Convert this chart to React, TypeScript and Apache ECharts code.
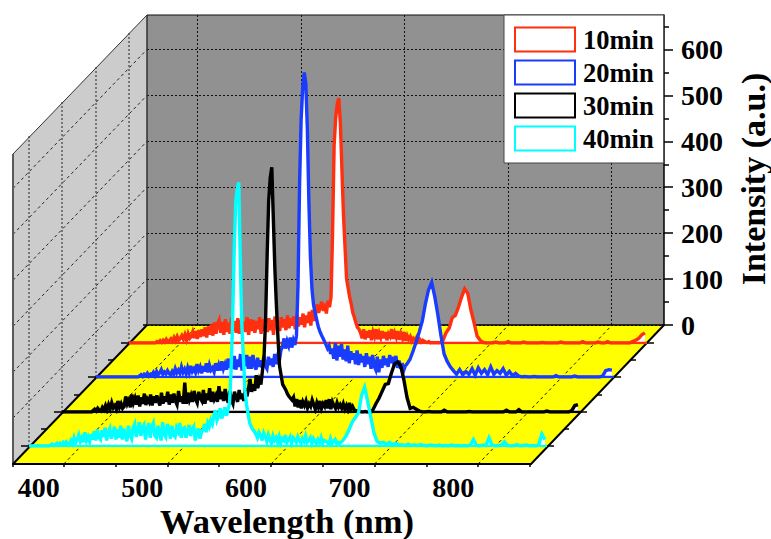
import React, { useEffect, useRef } from "react";
import * as echarts from "echarts";

// --- chart data -----------------------------------------------------------
const seriesNames = ["10min", "20min", "30min", "40min"];
const seriesColors = ["#ff3010", "#1a3cff", "#000000", "#00ffff"];
const yMajorTicks = [0, 100, 200, 300, 400, 500, 600];
const yMinorTicks = [50, 150, 250, 350, 450, 550, 650];
const xMajorTicks = [400, 500, 600, 700, 800];
const xAllTicks = [351, 400, 450, 500, 550, 600, 650, 700, 750, 800, 850];

// Sampling: every 1.5 nm from 351 to 651 nm (201 samples), then every 3 nm to 849 nm (66 samples)
const wavelengths: number[] = [];
for (let k = 0; k <= 200; k++) wavelengths.push(351 + 1.5 * k);
for (let j = 1; j <= 66; j++) wavelengths.push(651 + 3 * j);

const red10 = [
  0, 0, 0, 0, 0, 0, 0, 0, 0, 0, 0, 0, 0, 0, 0, 0, 0, 0, 3, 1,
  5, 1, 6, 2, 8, 3, 5, 9, 4, 12, 5, 14, 6, 10, 16, 8, 18, 7, 20, 10,
  14, 24, 11, 26, 9, 28, 13, 30, 15, 34, 12, 36, 18, 40, 16, 45, 20, 42, 50, 22,
  46, 18, 52, 24, 44, 20, 55, 26, 48, 22, 54, 20, 50, 28, 46, 24, 56, 18, 52, 26,
  50, 22, 48, 30, 56, 20, 52, 26, 46, 24, 54, 28, 50, 18, 58, 30, 48, 26, 56, 34,
  52, 28, 60, 32, 54, 38, 58, 30, 62, 36, 56, 40, 64, 34, 60, 44, 68, 38, 72, 48,
  62, 84, 66, 78, 90, 70, 86, 64, 92, 78, 100, 240, 430, 490, 520, 533, 480, 380, 280, 210,
  140, 120, 100, 85, 66, 56, 44, 34, 30, 22, 10, 30, 8, 26, 12, 28, 6, 24, 14, 30,
  8, 22, 12, 26, 10, 24, 6, 20, 14, 30, 9, 22, 12, 26, 7, 20, 10, 24, 5, 16,
  8, 14, 4, 10, 6, 12, 3, 8, 2, 6, 4, 2, 1, 3, 0, 1, 0, 1, 0, 1,
  0,
  5, 22, 32, 55, 60, 78, 100, 118, 108,
  72, 45, 15, 6, 1, 0, 0, 0, 2, 0,
  0, 0, 3, 0, 0, 0, 0, 2, 0, 0,
  0, 0, 0, 1, 0, 0, 0, 0, 0, 2,
  0, 0, 0, 0, 0, 0, 3, 0, 0, 0,
  0, 2, 0, 0, 3, 0, 0, 0, 0, 0,
  0, 0, 3, 6, 10, 18, 22,
];
const blue20 = [
  0, 0, 0, 0, 0, 0, 0, 0, 0, 0, 0, 0, 0, 0, 0, 0, 0, 0, 0, 0,
  0, 0, 0, 0, 0, 0, 0, 0, 2, 5, 1, 6, 3, 8, 2, 6, 4, 10, 3, 12,
  5, 9, 16, 6, 11, 7, 14, 8, 5, 12, 6, 18, 9, 15, 8, 22, 10, 17, 7, 20,
  9, 24, 12, 18, 10, 28, 14, 22, 8, 24, 12, 30, 10, 26, 15, 20, 11, 30, 14, 26,
  14, 34, 18, 28, 16, 40, 20, 32, 18, 46, 16, 38, 22, 50, 14, 36, 24, 48, 18, 44,
  18, 48, 26, 16, 42, 22, 36, 20, 46, 24, 18, 44, 26, 40, 22, 50, 28, 46, 36, 58,
  66, 84, 62, 78, 68, 86, 64, 80, 70, 90, 200, 420, 560, 630, 663, 640, 540, 380, 260, 190,
  157, 140, 125, 110, 100, 92, 85, 78, 70, 62, 68, 50, 62, 40, 74, 36, 68, 44, 72, 38,
  60, 34, 68, 30, 56, 38, 52, 28, 58, 26, 50, 32, 46, 22, 52, 28, 44, 18, 48, 24,
  16, 44, 10, 38, 20, 46, 26, 40, 22, 48, 30, 44, 24, 46, 20, 36, 18, 30, 14, 24,
  28,
  38, 56, 76, 98, 122, 160, 190, 206, 175,
  135, 90, 50, 34, 22, 14, 6, 16, 5, 12,
  6, 18, 4, 20, 8, 16, 5, 22, 6, 14,
  8, 18, 4, 12, 3, 8, 2, 0, 1, 0,
  0, 1, 0, 0, 0, 0, 0, 0, 3, 0,
  0, 0, 0, 0, 2, 0, 0, 0, 0, 0,
  0, 0, 0, 2, 14, 16, 15,
];
const black30 = [
  0, 0, 0, 0, 0, 0, 0, 0, 0, 0, 0, 0, 0, 0, 0, 0, 0, 0, 0, 0,
  3, 6, 2, 8, 4, 2, 10, 5, 14, 4, 16, 7, 20, 9, 14, 6, 24, 10, 18, 8,
  12, 34, 18, 26, 10, 38, 20, 30, 16, 36, 12, 32, 18, 40, 15, 28, 22, 38, 14, 34,
  20, 36, 24, 14, 42, 18, 34, 22, 44, 16, 38, 20, 40, 24, 16, 46, 22, 34, 18, 64,
  18, 42, 26, 36, 22, 46, 28, 20, 44, 30, 24, 48, 18, 40, 26, 52, 22, 44, 28, 36,
  22, 56, 28, 44, 24, 50, 30, 20, 46, 26, 18, 44, 32, 22, 48, 28, 40, 24, 52, 34,
  50, 72, 44, 60, 46, 80, 52, 70, 60, 90, 120, 200, 340, 460, 510, 533, 420, 310, 230, 160,
  100, 80, 60, 54, 48, 40, 34, 30, 26, 32, 12, 28, 10, 26, 8, 22, 14, 24, 9, 18,
  12, 26, 16, 6, 20, 10, 24, 8, 18, 12, 26, 8, 28, 6, 22, 14, 8, 20, 10, 16,
  8, 18, 6, 14, 4, 20, 6, 12, 5, 3, 2, 0, 1, 0, 0, 1, 0, 0, 1, 0,
  4,
  18, 30, 45, 60, 62, 85, 105, 109, 100,
  70, 32, 8, 10, 6, 2, 0, 0, 1, 0,
  0, 0, 0, 4, 0, 0, 0, 0, 0, 0,
  0, 1, 0, 0, 0, 0, 0, 0, 0, 0,
  0, 0, 0, 4, 0, 0, 0, 5, 0, 0,
  0, 0, 0, 0, 0, 0, 2, 0, 0, 0,
  0, 0, 0, 0, 3, 14, 16,
];
const cyan40 = [
  0, 0, 0, 0, 0, 0, 0, 0, 0, 0, 0, 0, 0, 0, 2, 4, 1, 3, 6, 2,
  6, 3, 8, 4, 9, 5, 3, 12, 5, 18, 7, 14, 24, 10, 18, 8, 30, 12, 20, 10,
  26, 14, 32, 12, 36, 18, 14, 34, 20, 40, 12, 30, 38, 16, 28, 42, 14, 36, 18, 44,
  14, 38, 22, 10, 44, 24, 16, 40, 48, 20, 34, 52, 22, 40, 46, 14, 36, 50, 18, 42,
  50, 22, 18, 44, 30, 12, 52, 26, 20, 48, 36, 16, 44, 24, 20, 40, 32, 50, 18, 38,
  40, 18, 30, 46, 22, 36, 42, 12, 28, 38, 16, 30, 36, 48, 30, 50, 42, 56, 48, 66,
  78, 56, 64, 82, 60, 70, 84, 66, 78, 92, 160, 270, 420, 530, 560, 574, 400, 260, 190, 120,
  90, 70, 50, 42, 36, 32, 26, 18, 30, 24, 12, 28, 20, 10, 24, 14, 6, 22, 12, 18,
  8, 20, 6, 16, 12, 24, 8, 14, 20, 6, 18, 14, 8, 20, 12, 6, 16, 10, 22, 8,
  12, 18, 6, 16, 10, 5, 14, 8, 18, 6, 12, 10, 8, 4, 16, 6, 10, 14, 5, 8,
  6,
  12, 22, 36, 52, 62, 72, 110, 128, 96,
  62, 28, 10, 6, 8, 4, 8, 3, 6, 2,
  3, 1, 4, 1, 2, 1, 3, 1, 0, 2,
  1, 0, 2, 0, 1, 0, 2, 0, 1, 0,
  1, 0, 2, 14, 1, 0, 2, 1, 18, 2,
  0, 1, 2, 9, 1, 0, 1, 3, 0, 1,
  2, 0, 1, 0, 2, 26, 14,
];
const intensities = [red10, blue20, black30, cyan40];

// --- frame geometry -------------------------------------------------------
const FONT = "Liberation Serif";
const X_MIN = 351;
const X_MAX = 851;
const Y_MAX = 675;
const PLOT_W = 518;
const PLOT_H = 310;
const BACK = { x: 147, y: 325 };
const FRONT = { x: 13, y: 464 };
const seriesLeft = [129, 96, 62, 29];
const seriesBase = [343, 377, 412, 446];
const depthMajor = [
  { x: 129, y: 343 },
  { x: 96, y: 377 },
  { x: 62, y: 412 },
  { x: 29, y: 446 },
];
const depthMinor = [
  { x: 113, y: 360 },
  { x: 79, y: 395 },
  { x: 46, y: 429 },
];

function buildOption() {
  const pxX = (v: number) => ((v - X_MIN) / (X_MAX - X_MIN)) * PLOT_W;
  const pxY = (v: number) => (v / Y_MAX) * PLOT_H;
  const g: any[] = [];
  const line = (x1: number, y1: number, x2: number, y2: number, stroke: string, lineWidth: number, dash?: number[], z = -1) =>
    g.push({
      type: "line",
      z,
      silent: true,
      shape: { x1, y1, x2, y2 },
      style: { stroke, lineWidth, lineDash: dash, fill: null },
    });

  g.push({
    type: "polygon",
    z: -5,
    silent: true,
    shape: { points: [[FRONT.x, FRONT.y - PLOT_H], [BACK.x, BACK.y - PLOT_H], [BACK.x, BACK.y], [FRONT.x, FRONT.y]] },
    style: { fill: "#cccccc" },
  });
  g.push({
    type: "polygon",
    z: -5,
    silent: true,
    shape: { points: [[BACK.x, BACK.y], [BACK.x + PLOT_W - 1, BACK.y], [FRONT.x + PLOT_W, FRONT.y], [FRONT.x, FRONT.y]] },
    style: { fill: "#ffff00" },
  });
  yMajorTicks.slice(1).forEach((v) =>
    line(FRONT.x, FRONT.y - pxY(v), BACK.x, BACK.y - pxY(v), "#222", 1, [3, 3])
  );
  depthMajor.forEach((p) => {
    line(p.x, p.y - PLOT_H, p.x, p.y, "#222", 1, [2, 2]);
  });
  xMajorTicks.forEach((v) =>
    line(FRONT.x + pxX(v), FRONT.y, BACK.x + pxX(v), BACK.y, "#111", 1, [3, 3])
  );
  line(FRONT.x, FRONT.y - PLOT_H, FRONT.x, FRONT.y, "#5a5a5a", 2);
  line(FRONT.x, FRONT.y - PLOT_H, BACK.x, BACK.y - PLOT_H, "#333", 1);
  line(BACK.x, BACK.y - PLOT_H, BACK.x, BACK.y, "#333", 1.5, undefined, 1);
  line(BACK.x, BACK.y - PLOT_H, BACK.x + PLOT_W - 1, BACK.y - PLOT_H, "#111", 1, undefined, 1);
  line(FRONT.x, FRONT.y, BACK.x, BACK.y, "#000", 2, undefined, 1);
  line(FRONT.x + PLOT_W, FRONT.y, BACK.x + PLOT_W - 1, BACK.y, "#000", 2, undefined, 1);
  depthMajor.forEach((p) => {
    line(p.x - 8, p.y, p.x, p.y, "#000", 1.5, undefined, 1);
    line(p.x + PLOT_W, p.y, p.x + PLOT_W + 7, p.y, "#000", 1.5, undefined, 1);
  });
  depthMinor.forEach((p) => {
    line(p.x - 5, p.y, p.x, p.y, "#000", 1.5, undefined, 1);
    line(p.x + PLOT_W, p.y, p.x + PLOT_W + 5, p.y, "#000", 1.5, undefined, 1);
  });
  line(BACK.x - 4, BACK.y, BACK.x, BACK.y, "#000", 1.5, undefined, 1);
  g.push({
    type: "text",
    x: 287,
    y: 521,
    style: {
      text: "Wavelength (nm)",
      font: `bold 34.5px "${FONT}"`,
      fill: "#000",
      textAlign: "center",
      textVerticalAlign: "middle",
    },
  });
  g.push({
    type: "text",
    x: 753,
    y: 179,
    rotation: Math.PI / 2,
    style: {
      text: "Intensity (a.u.)",
      font: `bold 34px "${FONT}"`,
      fill: "#000",
      textAlign: "center",
      textVerticalAlign: "middle",
    },
  });

  const bounds = { outerBoundsMode: "none" };
  const grids: any[] = [
    {
      ...bounds,
      left: BACK.x,
      top: BACK.y - PLOT_H,
      width: PLOT_W - 1,
      height: PLOT_H,
      show: true,
      backgroundColor: "#919191",
      borderWidth: 0,
    },
    { ...bounds, left: FRONT.x, top: FRONT.y - PLOT_H, width: PLOT_W, height: PLOT_H },
    { ...bounds, left: FRONT.x - 25, top: FRONT.y - PLOT_H, width: PLOT_W, height: PLOT_H },
    ...seriesLeft.map((left, i) => ({
      ...bounds,
      left,
      top: seriesBase[i] - PLOT_H,
      width: PLOT_W,
      height: PLOT_H,
    })),
  ];

  const hiddenX = (gridIndex: number) => ({
    type: "value",
    gridIndex,
    min: X_MIN,
    max: X_MAX,
    show: false,
  });
  const hiddenY = (gridIndex: number) => ({
    type: "value",
    gridIndex,
    min: 0,
    max: Y_MAX,
    show: false,
  });

  const xAxes: any[] = [
    {
      type: "value",
      gridIndex: 0,
      min: X_MIN,
      max: X_MAX,
      axisLine: { show: true, onZero: false, lineStyle: { color: "#000", width: 1.5 } },
      axisTick: { show: false, customValues: xMajorTicks },
      axisLabel: { show: false },
      splitLine: { show: true, lineStyle: { color: "#111", width: 1, type: [2, 2] } },
    },
    {
      type: "value",
      gridIndex: 1,
      min: X_MIN,
      max: X_MAX,
      axisLine: { show: true, onZero: false, lineStyle: { color: "#000", width: 2 } },
      axisTick: { show: true, length: 3, customValues: xAllTicks, lineStyle: { color: "#000", width: 1.5 } },
      axisLabel: { show: false },
      splitLine: { show: false },
    },
    {
      type: "value",
      gridIndex: 2,
      min: X_MIN,
      max: X_MAX,
      axisLine: { show: false, onZero: false },
      axisTick: { show: false },
      splitLine: { show: false },
      axisLabel: {
        show: true,
        customValues: xMajorTicks,
        margin: 9,
        color: "#000",
        fontFamily: FONT,
        fontWeight: "bold",
        fontSize: 28,
      },
    },
    ...seriesLeft.map((_, i) => hiddenX(i + 3)),
  ];

  const yAxes: any[] = [
    {
      type: "value",
      gridIndex: 0,
      position: "right",
      min: 0,
      max: Y_MAX,
      axisLine: { show: true, lineStyle: { color: "#000", width: 1.5 } },
      axisTick: { show: true, length: 9, customValues: yMajorTicks, lineStyle: { color: "#000", width: 1.5 } },
      splitLine: { show: true, lineStyle: { color: "#111", width: 1, type: [2, 2] } },
      axisLabel: {
        show: true,
        customValues: yMajorTicks,
        margin: 17,
        color: "#000",
        fontFamily: FONT,
        fontWeight: "bold",
        fontSize: 28,
      },
    },
    {
      type: "value",
      gridIndex: 0,
      position: "right",
      min: 0,
      max: Y_MAX,
      axisLine: { show: false },
      axisTick: { show: true, length: 5, customValues: yMinorTicks, lineStyle: { color: "#000", width: 1.5 } },
      splitLine: { show: false },
      axisLabel: { show: false },
    },
    hiddenY(1),
    hiddenY(2),
    ...seriesLeft.map((_, i) => hiddenY(i + 3)),
  ];

  const series: any[] = [];
  seriesNames.forEach((name, i) => {
    series.push({
      type: "line",
      name,
      xAxisIndex: i + 3,
      yAxisIndex: i + 4,
      symbol: "none",
      silent: true,
      data: intensities[i].map((v, k) => [wavelengths[k], v]),
      lineStyle: { color: seriesColors[i], width: 3.4, join: "miter" },
      itemStyle: { color: seriesColors[i] },
      areaStyle: { color: "#ffffff", opacity: 1 },
    });
    series.push({
      type: "line",
      name: `${name} floor`,
      xAxisIndex: i + 3,
      yAxisIndex: i + 4,
      symbol: "none",
      silent: true,
      data: [
        [X_MIN, 0],
        [X_MAX, 0],
      ],
      lineStyle: { color: seriesColors[i], width: 2.6 },
      itemStyle: { color: seriesColors[i] },
    });
  });

  return {
    animation: false,
    backgroundColor: "#ffffff",
    textStyle: { fontFamily: FONT },
    grid: grids,
    xAxis: xAxes,
    yAxis: yAxes,
    series,
    graphic: { elements: g },
    legend: {
      show: true,
      orient: "vertical",
      left: 504,
      top: 15,
      padding: [11, 10, 11, 10],
      itemWidth: 60,
      itemHeight: 24,
      itemGap: 6,
      selectedMode: false,
      backgroundColor: "#ffffff",
      borderColor: "#444",
      borderWidth: 1,
      textStyle: {
        color: "#000",
        fontFamily: FONT,
        fontWeight: "bold",
        fontSize: 26.5,
        lineHeight: 24,
        padding: [0, 0, 2, 3],
      },
      data: seriesNames.map((name, i) => ({
        name,
        icon: "rect",
        itemStyle: { color: "#ffffff", borderColor: seriesColors[i], borderWidth: 2 },
      })),
    },
  };
}

export default function App() {
  const ref = useRef<HTMLDivElement>(null);
  useEffect(() => {
    if (!ref.current) return;
    const chart = echarts.init(ref.current, undefined, { renderer: "svg" });
    chart.setOption(buildOption() as any);
    return () => chart.dispose();
  }, []);
  return (
    <div
      ref={ref}
      style={{ position: "fixed", left: 0, top: 0, width: 771, height: 539 }}
    />
  );
}
